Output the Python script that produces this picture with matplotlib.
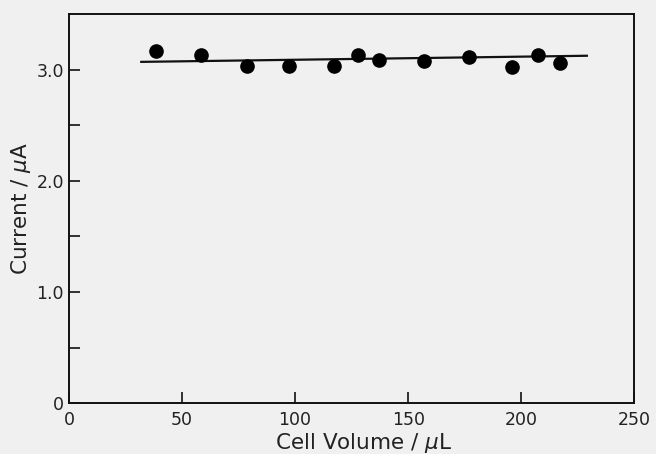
import numpy as np
import matplotlib.pyplot as plt
from matplotlib.ticker import MultipleLocator, FixedLocator

# data
volume = [38.5, 58.4, 78.8, 97.3, 117.3, 127.9, 137.2, 157.1, 177.0, 196.0, 207.5, 217.3]
current = [3.17, 3.13, 3.035, 3.03, 3.03, 3.13, 3.09, 3.08, 3.11, 3.02, 3.13, 3.06]
fit_x = [32, 229]
fit_y = [3.07, 3.125]

xticks = [0, 50, 100, 150, 200, 250]
xlabels = ["0", "50", "100", "150", "200", "250"]
yticks = [0, 1.0, 2.0, 3.0]
ylabels = ["0", "1.0", "2.0", "3.0"]

plt.rcParams['font.family'] = ['DejaVu Sans']

fig = plt.figure(figsize=(6.56, 4.54), dpi=100, facecolor='#f0f0f0')
ax = fig.add_axes([0.105, 0.112, 0.862, 0.857])
ax.set_facecolor('#f0f0f0')

ax.plot(fit_x, fit_y, color='#111111', lw=1.6)
ax.plot(volume, current, 'o', color='#000000', ms=9.5)

ax.set_xlim(0, 250)
ax.set_ylim(0, 3.5)
ax.set_xticks(xticks)
ax.set_xticklabels(xlabels)
ax.set_yticks(yticks)
ax.set_yticklabels(ylabels)
ax.yaxis.set_minor_locator(FixedLocator([0.5, 1.5, 2.5]))
ax.tick_params(axis='both', which='both', direction='in', labelsize=12.5,
               color='#111111', labelcolor='#222222')
ax.tick_params(axis='both', which='major', length=8, width=1.2)
ax.tick_params(axis='y', which='minor', length=8, width=1.2)
ax.tick_params(axis='x', pad=6)

for s in ax.spines.values():
    s.set_color('#111111')
    s.set_linewidth(1.4)

ax.set_xlabel("Cell Volume / $\\mu$L", fontsize=15.5, color='#222222', va='center')
ax.set_ylabel("Current / $\\mu$A", fontsize=15.5, color='#222222', va='center')
ax.xaxis.set_label_coords(0.522, -0.103)
ax.yaxis.set_label_coords(-0.085, 0.501)

fig.savefig("out.png", dpi=100, facecolor=fig.get_facecolor())
